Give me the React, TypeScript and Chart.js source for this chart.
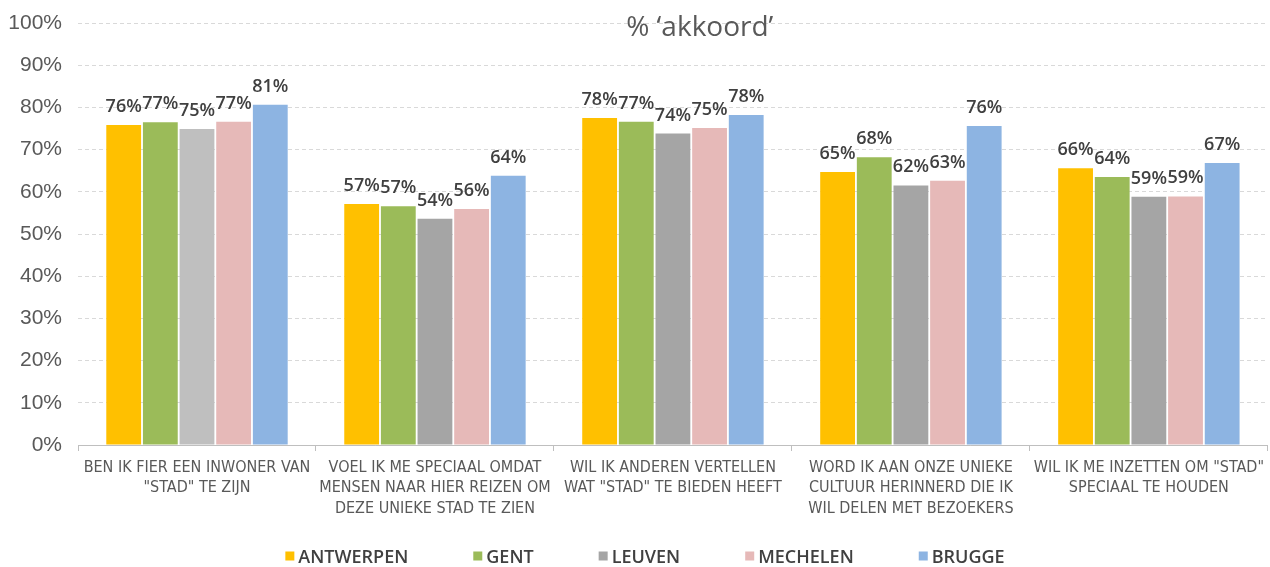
import React, { useEffect, useRef } from 'react';
import { Chart, registerables } from 'chart.js';

Chart.register(...registerables);

const titleText = "% ‘akkoord’";

const categories: string[][] = [
  ['BEN IK FIER EEN INWONER VAN', '"STAD" TE ZIJN'],
  ['VOEL IK ME SPECIAAL OMDAT', 'MENSEN NAAR HIER REIZEN OM', 'DEZE UNIEKE STAD TE ZIEN'],
  ['WIL IK ANDEREN VERTELLEN', 'WAT "STAD" TE BIEDEN HEEFT'],
  ['WORD IK AAN ONZE UNIEKE', 'CULTUUR HERINNERD DIE IK', 'WIL DELEN MET BEZOEKERS'],
  ['WIL IK ME INZETTEN OM "STAD"', 'SPECIAAL TE HOUDEN'],
];

const seriesNames = ['ANTWERPEN', 'GENT', 'LEUVEN', 'MECHELEN', 'BRUGGE'];

const antwerpen = [75.8, 57.1, 77.5, 64.7, 65.6];
const gent = [76.5, 56.6, 76.6, 68.2, 63.5];
const leuven = [74.9, 53.6, 73.8, 61.5, 58.8];
const mechelen = [76.6, 55.9, 75.1, 62.6, 58.9];
const brugge = [80.6, 63.8, 78.2, 75.6, 66.8];

const yTickValues = [0, 10, 20, 30, 40, 50, 60, 70, 80, 90, 100];

const colors = {
  antwerpen: '#FFC000',
  gent: '#9BBB59',
  leuven: '#A5A5A5',
  leuvenFirst: '#BFBFBF',
  mechelen: '#E6B9B8',
  brugge: '#8DB4E2',
};

const valueLabelPlugin = {
  id: 'valueLabels',
  afterDatasetsDraw(chart: any) {
    const ctx = chart.ctx;
    ctx.save();
    ctx.font = '600 18px "Open Sans", sans-serif';
    ctx.fillStyle = '#404040';
    ctx.textAlign = 'center';
    ctx.textBaseline = 'alphabetic';
    chart.data.datasets.forEach((ds: any, i: number) => {
      const meta = chart.getDatasetMeta(i);
      meta.data.forEach((bar: any, j: number) => {
        ctx.fillText(Math.round(ds.data[j]) + '%', bar.x, bar.y - 13);
      });
    });
    ctx.restore();
  },
};

const titlePlugin = {
  id: 'overlayTitle',
  afterDraw(chart: any) {
    const ctx = chart.ctx;
    ctx.save();
    ctx.font = '28px "Open Sans", sans-serif';
    ctx.fillStyle = '#595959';
    ctx.textAlign = 'center';
    ctx.textBaseline = 'middle';
    ctx.fillText(titleText, chart.width * 0.551, 28);
    ctx.restore();
  },
};

const legendPlugin = {
  id: 'bottomLegend',
  afterDraw(chart: any) {
    const ctx = chart.ctx;
    ctx.save();
    ctx.font = '600 18px "Open Sans", sans-serif';
    ctx.textBaseline = 'middle';
    ctx.textAlign = 'left';
    const box = 9;
    const boxGap = 4;
    const itemGap = 65;
    const items = chart.data.datasets.map((ds: any) => ({
      text: ds.label,
      color: ds.legendColor || ds.backgroundColor,
      w: ctx.measureText(ds.label).width,
    }));
    const total = items.reduce((s: number, it: any) => s + box + boxGap + it.w, 0) + itemGap * (items.length - 1);
    let x = chart.width / 2 + 10 - total / 2;
    const y = chart.height - 9;
    items.forEach((it: any) => {
      ctx.fillStyle = it.color;
      ctx.fillRect(x, y - box / 2 - 2, box, box);
      x += box + boxGap;
      ctx.fillStyle = '#404040';
      ctx.fillText(it.text, x, y);
      x += it.w + itemGap;
    });
    ctx.restore();
  },
};

export default function App() {
  const canvasRef = useRef<HTMLCanvasElement | null>(null);

  useEffect(() => {
    if (!canvasRef.current) return;
    const chart = new Chart(canvasRef.current, {
      type: 'bar',
      data: {
        labels: categories,
        datasets: [
          { label: seriesNames[0], data: antwerpen, backgroundColor: colors.antwerpen },
          { label: seriesNames[1], data: gent, backgroundColor: colors.gent },
          {
            label: seriesNames[2],
            data: leuven,
            backgroundColor: leuven.map((_, i) => (i === 0 ? colors.leuvenFirst : colors.leuven)),
            legendColor: colors.leuven,
          } as any,
          { label: seriesNames[3], data: mechelen, backgroundColor: colors.mechelen },
          { label: seriesNames[4], data: brugge, backgroundColor: colors.brugge },
        ],
      },
      options: {
        animation: false,
        responsive: true,
        maintainAspectRatio: false,
        layout: { padding: { top: 23, bottom: 40, left: 0, right: 0 } },
        datasets: {
          bar: { categoryPercentage: 0.77, barPercentage: 0.95 },
        },
        plugins: {
          legend: { display: false },
          title: { display: false },
          tooltip: { enabled: false },
        },
        scales: {
          x: {
            grid: {
              display: true,
              offset: true,
              drawOnChartArea: false,
              drawTicks: true,
              tickLength: 6,
              color: '#BFBFBF',
            },
            border: { display: true, color: '#BFBFBF', width: 1 },
            ticks: {
              color: '#595959',
              font: { family: '"Liberation Sans Narrow", "DejaVu Sans Condensed", "Liberation Sans", sans-serif', size: 16, lineHeight: 1.3 },
              padding: 6,
              maxRotation: 0,
              autoSkip: false,
            },
            afterFit(scale: any) {
              scale.height = 82;
            },
          },
          y: {
            min: 0,
            max: 100,
            afterBuildTicks(scale: any) {
              scale.ticks = yTickValues.map((v) => ({ value: v }));
            },
            grid: {
              color: '#D9D9D9',
              drawTicks: false,
              lineWidth: 1,
            },
            border: { display: false, dash: [4, 3] },
            ticks: {
              color: '#595959',
              font: { family: '"Liberation Sans", Arial, sans-serif', size: 21 },
              padding: 16,
              callback: (v: any) => v + '%',
            },
            afterFit(scale: any) {
              scale.width = 78;
              scale.paddingTop = 0;
              scale.paddingBottom = 0;
            },
          },
        },
      },
      plugins: [valueLabelPlugin, titlePlugin, legendPlugin],
    });
    return () => chart.destroy();
  }, []);

  return (
    <div style={{ position: 'absolute', left: 0, top: 0, width: 1270, height: 567, background: '#ffffff' }}>
      <canvas ref={canvasRef} />
    </div>
  );
}
